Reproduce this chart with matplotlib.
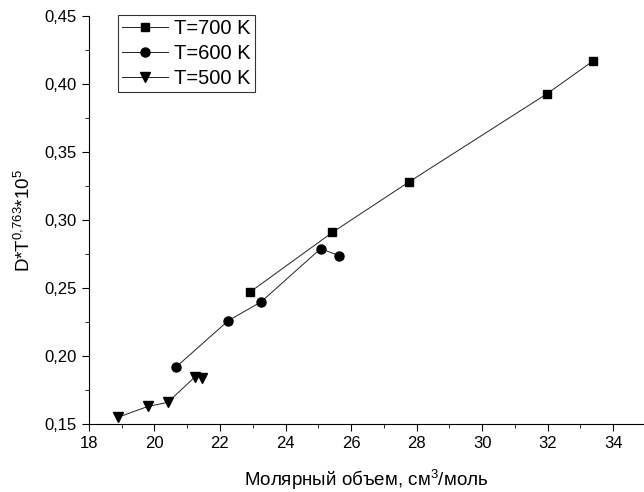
import numpy as np
import matplotlib.pyplot as plt
from matplotlib.ticker import MultipleLocator, FuncFormatter

plt.rcParams['font.family'] = ['Liberation Sans', 'DejaVu Sans']
plt.rcParams['mathtext.fontset'] = 'custom'
plt.rcParams['mathtext.rm'] = 'Liberation Sans'
plt.rcParams['mathtext.it'] = 'Liberation Sans'

# Data
v700 = [22.91, 25.43, 27.76, 31.98, 33.38]
d700 = [0.247, 0.291, 0.328, 0.393, 0.417]
v600 = [20.66, 22.25, 23.26, 25.07, 25.63]
d600 = [0.192, 0.226, 0.240, 0.279, 0.274]
v500 = [18.89, 19.80, 20.41, 21.25, 21.44]
d500 = [0.155, 0.163, 0.166, 0.185, 0.184]

fig = plt.figure(figsize=(6.44, 4.92), dpi=100)
ax = fig.add_axes([0.138, 0.138, 0.86, 0.829])

ax.plot(v700, d700, '-', color='#222222', lw=0.7, marker='s', ms=5.5,
        mfc='black', mec='black', label='T=700 K')
ax.plot(v600, d600, '-', color='#222222', lw=0.7, marker='o', ms=6.5,
        mfc='black', mec='black', label='T=600 K')
ax.plot(v500, d500, '-', color='#222222', lw=0.7, marker='v', ms=7,
        mfc='black', mec='black', label='T=500 K')

ax.set_xlim(18, 34.9)
ax.set_ylim(0.15, 0.45)
ax.xaxis.set_major_locator(MultipleLocator(2))
ax.xaxis.set_minor_locator(MultipleLocator(1))
ax.yaxis.set_major_locator(MultipleLocator(0.05))
ax.yaxis.set_minor_locator(MultipleLocator(0.025))
ax.yaxis.set_major_formatter(FuncFormatter(lambda v, p: f'{v:.2f}'.replace('.', ',')))
ax.tick_params(which='both', direction='out', labelsize=12)
ax.tick_params(which='major', length=5)
ax.tick_params(which='minor', length=3)
for s in ['top', 'right']:
    ax.spines[s].set_visible(False)

ax.set_xlabel('Молярный объем, см$^3$/моль', fontsize=13.5, labelpad=12)
ax.set_ylabel('D*T$^{0{,}763}$*10$^5$', fontsize=13.5, labelpad=8)

leg = ax.legend(loc='upper left', bbox_to_anchor=(0.052, 1.003), fontsize=14.5,
                frameon=True, fancybox=False, edgecolor='black',
                handlelength=2.3, handletextpad=0.3, borderpad=0.2,
                labelspacing=0.3, borderaxespad=0)
leg.get_frame().set_linewidth(0.8)

fig.savefig('out.png', dpi=100)
